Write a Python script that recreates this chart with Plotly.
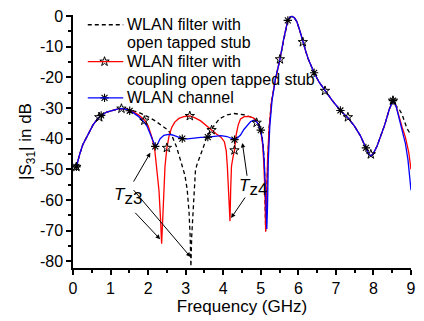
import plotly.graph_objects as go

# ---------------- data ----------------
# common low-frequency part shared by all three curves
low_f = [0.09, 0.12, 0.18, 0.26, 0.39, 0.53, 0.65, 0.75, 0.90, 1.05, 1.20, 1.31, 1.42, 1.51]
low_s = [-49.2, -47.5, -45.0, -42.0, -38.8, -35.6, -33.6, -32.4, -31.3, -30.7, -30.3, -30.2, -30.4, -30.9]

# common upper part (peak region)
peak_f = [5.39, 5.51, 5.62, 5.72, 5.78, 5.83, 5.89, 5.96, 6.04, 6.12, 6.20, 6.27, 6.35, 6.42,
          6.55, 6.71, 6.90, 7.12, 7.32, 7.49, 7.65, 7.80, 7.87, 7.93, 8.00, 8.10, 8.19, 8.30,
          8.42, 8.52, 8.60]
peak_s = [-20.6, -14.1, -6.9, -1.4, -0.3, -0.1, -0.5, -1.8, -4.8, -8.5, -11.6, -14.2, -16.5, -18.5,
          -21.5, -24.4, -27.5, -30.8, -33.2, -35.8, -39.0, -43.0, -44.8, -45.7, -44.8, -42.3, -39.5, -35.5,
          -30.5, -27.6, -29.3]

# WLAN filter with open tapped stub (dashed black)
open_f = [1.60, 1.75, 1.90, 2.05, 2.19, 2.35, 2.54, 2.65, 2.75, 2.85, 2.93, 2.98, 3.04, 3.09, 3.12,
          3.14, 3.16, 3.19, 3.22, 3.26, 3.30, 3.41, 3.48, 3.55, 3.68, 3.90, 4.11, 4.29, 4.55, 4.82,
          4.95, 5.02, 5.07, 5.10, 5.12, 5.13, 5.15, 5.18, 5.22, 5.28]
open_s = [-30.9, -31.4, -32.2, -33.2, -34.2, -35.5, -37.3, -39.5, -42.5, -46.5, -49.5, -52.0, -56.5, -64.0, -72.0,
          -81.7, -72.0, -64.0, -56.0, -50.5, -48.5, -45.0, -42.5, -39.8, -37.0, -33.5, -32.2, -31.8, -32.2, -33.3,
          -35.0, -38.0, -43.0, -50.0, -58.0, -70.0, -60.0, -47.0, -37.0, -28.5]
open_tail_f = [8.68, 8.76, 8.84, 8.89, 8.96]
open_tail_s = [-30.3, -32.0, -34.8, -36.6, -38.0]

# WLAN filter with coupling open tapped stub (red)
coup_f = [1.60, 1.75, 1.91, 2.00, 2.10, 2.18, 2.24, 2.29, 2.33, 2.36, 2.39, 2.42, 2.45, 2.50, 2.56,
          2.63, 2.71, 2.82, 2.95, 3.11, 3.25, 3.40, 3.55, 3.69, 3.82, 3.94, 4.03, 4.08, 4.11, 4.15,
          4.18, 4.20, 4.22, 4.26, 4.30, 4.34, 4.40, 4.46, 4.56, 4.68, 4.80, 4.90, 4.96, 5.00, 5.05,
          5.08, 5.11, 5.13, 5.15, 5.18, 5.22, 5.28]
coup_s = [-31.2, -32.3, -34.0, -35.8, -39.5, -44.0, -50.0, -57.0, -66.0, -74.3, -66.0, -56.0, -49.0, -43.0, -39.0,
          -36.3, -34.6, -33.4, -32.8, -32.6, -33.2, -34.2, -35.6, -37.2, -38.5, -39.5, -41.0, -44.0, -49.0, -57.0,
          -66.9, -56.0, -49.0, -46.0, -43.8, -39.0, -35.5, -33.6, -32.8, -32.7, -33.2, -34.6, -36.0, -37.5, -42.0,
          -48.0, -57.0, -70.4, -60.0, -47.0, -37.0, -28.5]
coup_tail_f = [8.68, 8.77, 8.85, 8.94, 9.00]
coup_tail_s = [-33.0, -36.5, -39.5, -44.5, -50.0]

# WLAN channel (blue)
chan_f = [1.60, 1.75, 1.87, 1.97, 2.05, 2.12, 2.19, 2.25, 2.32, 2.42, 2.54, 2.65, 2.78, 2.91, 3.05,
          3.24, 3.40, 3.59, 3.75, 3.94, 4.10, 4.20, 4.30, 4.38, 4.46, 4.55, 4.64, 4.73, 4.82, 4.90,
          4.96, 5.00, 5.05, 5.09, 5.12, 5.14, 5.16, 5.18, 5.20, 5.24, 5.30]
chan_s = [-31.5, -32.8, -34.3, -35.9, -38.2, -40.6, -42.5, -41.8, -40.0, -38.9, -38.6, -38.8, -39.5, -40.0, -40.1,
          -39.8, -39.6, -39.5, -39.2, -39.0, -39.3, -39.8, -40.3, -39.8, -38.8, -37.0, -35.5, -34.4, -34.0, -34.6,
          -36.0, -37.2, -41.0, -47.0, -55.0, -62.0, -69.5, -62.0, -47.0, -36.0, -27.5]
chan_tail_f = [8.68, 8.77, 8.85, 8.92, 8.97, 9.00]
chan_tail_s = [-33.5, -37.5, -41.5, -47.0, -52.5, -56.8]

# markers
star_f = [0.09, 0.70, 1.29, 1.90, 2.50, 3.11, 3.69, 4.30, 4.89, 5.51, 6.12, 6.71, 7.32, 7.93, 8.52]
star_s = [-49.2, -33.0, -30.2, -34.1, -43.0, -32.6, -37.2, -43.8, -34.8, -14.1, -8.5, -24.4, -33.0, -45.1, -27.6]
ast_f = [0.09, 0.75, 1.51, 2.19, 2.91, 3.59, 4.30, 5.00, 5.72, 6.42, 7.12, 7.80, 8.52]
ast_s = [-49.2, -32.4, -30.9, -42.5, -40.0, -39.5, -40.3, -37.2, -1.4, -18.5, -30.8, -43.0, -27.6]

legend_lines = [["WLAN filter with", "open tapped stub"],
                ["WLAN filter with", "coupling open tapped stub"],
                ["WLAN channel"]]
zero_labels = ["z3", "z4"]

x_ticks = [0, 1, 2, 3, 4, 5, 6, 7, 8, 9]
y_ticks = [0, -10, -20, -30, -40, -50, -60, -70, -80]

# ---------------- figure ----------------
FONT = "Arial, Liberation Sans, sans-serif"
W, H = 424, 321
ML, MR, MT, MB = 73, 8, 14, 48
PW, PH = W - ML - MR, H - MT - MB


def px_x(p):  # pixel -> paper (layout helper for the hand-drawn legend)
    return (p - ML) / PW


def px_y(p):
    return 1 - (p - MT) / PH


fig = go.Figure()


def curve(mid_f, mid_s, tail_f, tail_s):
    return low_f + mid_f + peak_f + tail_f, low_s + mid_s + peak_s + tail_s


DASH = "4px,3px"
xf, ys = curve(open_f, open_s, open_tail_f, open_tail_s)
fig.add_trace(go.Scatter(x=xf, y=ys, mode="lines", showlegend=False,
                         line=dict(color="black", width=1.3, dash=DASH)))
xf, ys = curve(coup_f, coup_s, coup_tail_f, coup_tail_s)
fig.add_trace(go.Scatter(x=xf, y=ys, mode="lines", showlegend=False,
                         line=dict(color="#ff0000", width=1.3)))
xf, ys = curve(chan_f, chan_s, chan_tail_f, chan_tail_s)
fig.add_trace(go.Scatter(x=xf, y=ys, mode="lines", showlegend=False,
                         line=dict(color="#0000ff", width=1.3)))
STAR = dict(symbol="star-open", size=7, color="black", line=dict(width=1))
AST = dict(symbol="asterisk-open", size=7, color="black", line=dict(width=1.1))
fig.add_trace(go.Scatter(x=star_f, y=star_s, mode="markers", showlegend=False, marker=STAR))
fig.add_trace(go.Scatter(x=ast_f, y=ast_s, mode="markers", showlegend=False, marker=AST))

# ---------- hand-drawn legend (layout) ----------
leg_x0, leg_x1, leg_mx, leg_tx = 88, 124, 105, 126
leg_sym_y = [24, 61.7, 98.8]
leg_text_y = [[23.3, 42.2], [61.4, 80.4], [98.8]]
leg_colors = ["black", "#ff0000", "#0000ff"]
leg_dash = [DASH, "solid", "solid"]
shapes = []
for i in range(3):
    shapes.append(dict(type="line", xref="paper", yref="paper",
                       x0=px_x(leg_x0), x1=px_x(leg_x1), y0=px_y(leg_sym_y[i]), y1=px_y(leg_sym_y[i]),
                       line=dict(color=leg_colors[i], width=1.3, dash=leg_dash[i])))
ann = []
for i in range(3):
    for line_txt, yy in zip(legend_lines[i], leg_text_y[i]):
        ann.append(dict(xref="paper", yref="paper", x=px_x(leg_tx), y=px_y(yy), text=line_txt,
                        xanchor="left", yanchor="middle", showarrow=False,
                        font=dict(size=16, family=FONT, color="black")))
# legend key markers on an invisible overlay axis spanning the paper
fig.add_trace(go.Scatter(x=[px_x(leg_mx)], y=[px_y(leg_sym_y[1])], xaxis="x2", yaxis="y2",
                         mode="markers", showlegend=False, marker=STAR, hoverinfo="skip"))
fig.add_trace(go.Scatter(x=[px_x(leg_mx)], y=[px_y(leg_sym_y[2])], xaxis="x2", yaxis="y2",
                         mode="markers", showlegend=False, marker=AST, hoverinfo="skip"))

# annotations: T_z3 / T_z4 labels (one text each, full-size lowered subscript) and arrows
lab_font = dict(size=17, family=FONT, color="black")
for (lx, ly), sub in zip([(1.47, -58.8), (4.78, -55.8)], zero_labels):
    ann.append(dict(x=lx, y=ly, text="<i>T</i><sub><span style='font-size:17px'>" + sub + "</span></sub>",
                    showarrow=False, font=lab_font))
arrows = [((1.59, -54.5), (2.06, -44.6)),
          ((1.58, -56.3), (3.13, -78.6)),
          ((1.62, -63.7), (2.32, -72.8)),
          ((4.64, -52.6), (4.51, -41.4)),
          ((4.61, -58.7), (4.21, -65.9))]
for (tx, ty), (hx, hy) in arrows:
    ann.append(dict(x=hx, y=hy, ax=tx, ay=ty, axref="x", ayref="y", xref="x", yref="y",
                    text="", showarrow=True, arrowhead=2, arrowsize=0.9, arrowwidth=1,
                    arrowcolor="black", standoff=0, startstandoff=0))

fig.update_layout(
    width=W, height=H,
    margin=dict(l=ML, r=MR, t=MT, b=MB),
    paper_bgcolor="white", plot_bgcolor="white",
    font=dict(family=FONT, size=16, color="black"),
    annotations=ann, shapes=shapes, showlegend=False,
    xaxis2=dict(overlaying="x", range=[0, 1], visible=False, fixedrange=True),
    yaxis2=dict(overlaying="y", range=[0, 1], visible=False, fixedrange=True),
)
fig.update_layout(xaxis=dict(
    range=[0, 9], tickvals=x_ticks, ticktext=[str(v) for v in x_ticks],
    showline=True, linecolor="black", linewidth=1.5, showgrid=False, zeroline=False,
    ticks="outside", ticklen=5, tickwidth=1.5, tickcolor="black",
    minor=dict(dtick=0.5, ticks="outside", ticklen=3, tickwidth=1.5, tickcolor="black", showgrid=False),
    tickfont=dict(size=16, family=FONT, color="black"),
    title=dict(text="Frequency (GHz)", font=dict(size=17, family=FONT, color="black"), standoff=4)))
fig.update_layout(yaxis=dict(
    range=[-82.2, 0.35], tickvals=y_ticks, ticktext=[str(v) for v in y_ticks],
    showline=True, linecolor="black", linewidth=1.5, showgrid=False, zeroline=False,
    ticks="outside", ticklen=5, tickwidth=1.5, tickcolor="black",
    minor=dict(dtick=5, tick0=0, ticks="outside", ticklen=3, tickwidth=1.5, tickcolor="black", showgrid=False),
    tickfont=dict(size=16, family=FONT, color="black"),
    title=dict(text="|S<sub>31</sub>| in dB", font=dict(size=17, family=FONT, color="black"), standoff=4)))

fig.write_html("out.html")
